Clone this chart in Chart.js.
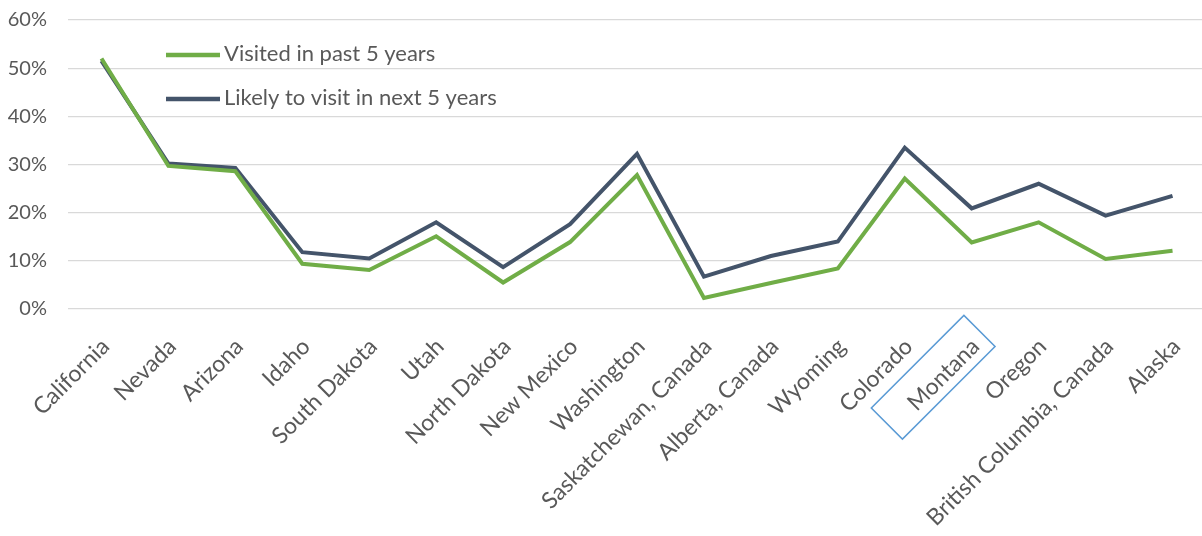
<!DOCTYPE html>
<html>
<head>
<meta charset="utf-8">
<script src="https://cdn.jsdelivr.net/npm/chart.js"></script>
<style>
  html, body { margin: 0; padding: 0; background: #fff; overflow: hidden; }
  #wrap { width: 1210px; height: 536px; }
</style>
</head>
<body>
<div id="wrap"><canvas id="chart"></canvas></div>
<script>
// categories along the x axis
const places = ["California", "Nevada", "Arizona", "Idaho", "South Dakota", "Utah",
  "North Dakota", "New Mexico", "Washington", "Saskatchewan, Canada", "Alberta, Canada",
  "Wyoming", "Colorado", "Montana", "Oregon", "British Columbia, Canada", "Alaska"];

// percent values
const visitedPast5 = [52, 29.7, 28.6, 9.4, 8.1, 15.1, 5.5, 13.9, 27.8, 2.3, 5.4, 8.4, 27.1, 13.8, 18, 10.4, 12.1];
const likelyNext5 = [51.5, 30.2, 29.3, 11.8, 10.5, 18, 8.7, 17.6, 32.2, 6.7, 11, 14, 33.5, 20.9, 26, 19.4, 23.5];

const yTicks = [0, 10, 20, 30, 40, 50, 60];
const highlighted = "Montana";

const textColor = "#595959";

// legend drawn inside the plot, top left
const insideLegend = {
  id: "insideLegend",
  afterDraw(chart) {
    const ctx = chart.ctx;
    ctx.save();
    chart.data.datasets.forEach((ds, i) => {
      const y = 55 + i * 44;
      ctx.strokeStyle = ds.borderColor;
      ctx.lineWidth = 4.5;
      ctx.beginPath();
      ctx.moveTo(166, y);
      ctx.lineTo(220, y);
      ctx.stroke();
      ctx.fillStyle = textColor;
      ctx.font = "22px Lato";
      ctx.textBaseline = "middle";
      ctx.fillText(ds.label, 224, y - 1);
    });
    ctx.restore();
  }
};

// blue frame round the highlighted category label
const labelBox = {
  id: "labelBox",
  afterDraw(chart) {
    const xs = chart.scales.x;
    const px = xs.getPixelForValue(places.indexOf(highlighted));
    const ctx = chart.ctx;
    ctx.save();
    ctx.translate(px, xs.top);
    ctx.rotate(-Math.PI / 4);
    ctx.strokeStyle = "#5B9BD5";
    ctx.lineWidth = 1.5;
    ctx.strokeRect(-141, -1, 131, 44);
    ctx.restore();
  }
};

new Chart(document.getElementById("chart"), {
  type: "line",
  data: {
    labels: places,
    datasets: [
      {
        label: "Visited in past 5 years",
        data: visitedPast5,
        borderColor: "#70AD47",
        backgroundColor: "#70AD47",
        borderWidth: 4,
        pointRadius: 0,
        tension: 0
      },
      {
        label: "Likely to visit in next 5 years",
        data: likelyNext5,
        borderColor: "#44546A",
        backgroundColor: "#44546A",
        borderWidth: 4,
        pointRadius: 0,
        tension: 0
      }
    ]
  },
  options: {
    responsive: true,
    maintainAspectRatio: false,
    animation: false,
    layout: { padding: { top: 20, right: 4, left: 0, bottom: 0 } },
    plugins: {
      legend: { display: false },
      tooltip: { enabled: false }
    },
    scales: {
      x: {
        offset: true,
        grid: { display: false },
        border: { display: false },
        ticks: {
          autoSkip: false,
          minRotation: 45,
          maxRotation: 45,
          padding: 16,
          labelOffset: 4,
          color: textColor,
          font: { family: "Lato", size: 23 }
        },
        afterFit(s) {
          s.height = 227;
          s.paddingLeft = 0;
          s.paddingRight = 0;
        }
      },
      y: {
        min: 0,
        max: 60,
        afterBuildTicks(s) {
          s.ticks = yTicks.map(v => ({ value: v }));
        },
        grid: { color: "#D9D9D9", lineWidth: 1.3, drawTicks: false },
        border: { display: false },
        ticks: {
          padding: 21,
          color: textColor,
          font: { family: "Lato", size: 20 },
          callback: v => v + "%"
        },
        afterFit(s) {
          s.width = 68;
          s.paddingTop = 0;
          s.paddingBottom = 0;
        }
      }
    }
  },
  plugins: [insideLegend, labelBox]
});
</script>
</body>
</html>
